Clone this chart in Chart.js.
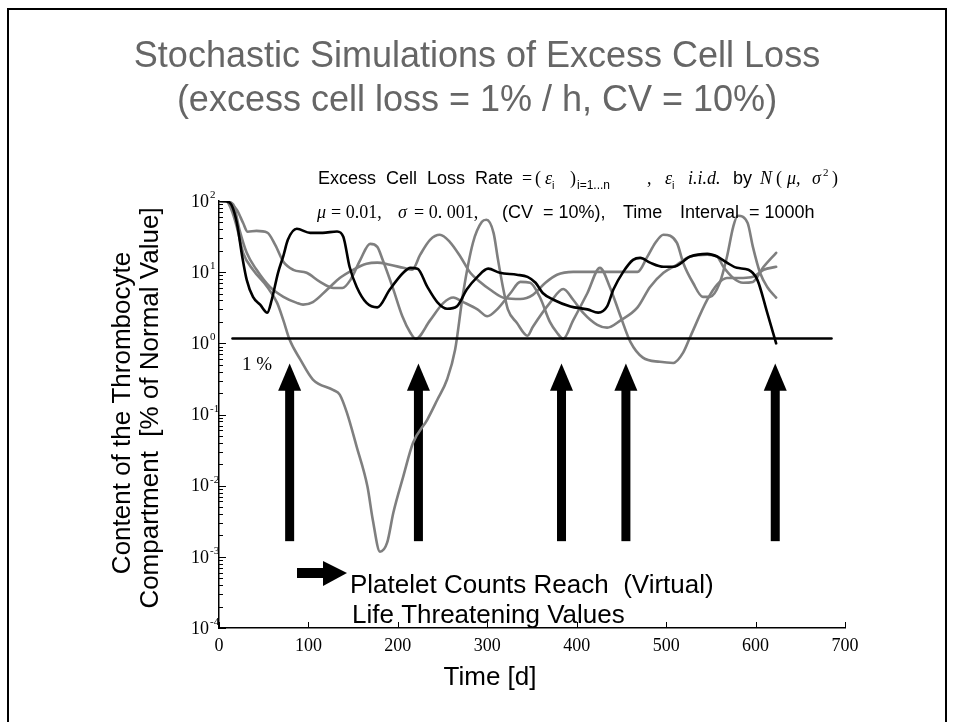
<!DOCTYPE html>
<html>
<head>
<meta charset="utf-8">
<title>Stochastic Simulations of Excess Cell Loss</title>
<script src="https://cdn.jsdelivr.net/npm/chart.js@4.4.1/dist/chart.umd.min.js"></script>
<style>
  html, body { margin: 0; padding: 0; background: #fff; }
</style>
</head>
<body>
<canvas id="myChart" width="954" height="722"></canvas>
<script>
// time axis in days, values in % of normal (log scale)
const blackDays   = [0, 8, 14, 20, 26, 31, 38, 46, 54, 59, 66, 72, 77, 87, 102, 116, 132, 139, 146, 154, 165, 177, 191, 206, 214, 222, 233, 244, 255, 266, 277, 289, 301, 314, 333, 345, 354, 362, 374, 393, 412, 424, 434, 441, 452, 463, 471, 482, 497, 508, 527, 546, 557, 568, 579, 592, 602, 613, 623];
const blackValues = [100, 99, 88, 49, 16.5, 7.8, 4.5, 3.5, 2.7, 4.1, 9.8, 17, 28.5, 40.7, 35.7, 35.7, 37.3, 31.4, 11.9, 6.2, 3.7, 3.2, 5.7, 9.8, 11.5, 11.2, 6.2, 3.8, 3.06, 3.3, 5.7, 8.6, 11.2, 9.8, 9.2, 8.6, 7.1, 5.1, 4.1, 3.3, 3.0, 2.7, 3.3, 5.7, 10.1, 14.9, 15.9, 13.6, 11.9, 11.9, 16.6, 18.1, 16.6, 13.6, 11.5, 10.8, 7.8, 2.7, 1.0];

const gray1Days   = [0, 8, 14, 20, 27, 32, 42, 54, 63, 72, 83, 98, 113, 128, 138, 147, 158, 169, 177, 183, 194, 205, 214, 220, 236, 251, 262, 273, 289, 300, 311, 326, 337, 348, 359, 370, 378, 385, 396, 412, 426, 437, 449, 460, 474, 493, 508, 519, 527, 546, 557, 568, 586, 597, 609, 623];
const gray1Values = [100, 99, 90, 75, 49, 37, 38, 36, 24, 14, 10.8, 9.8, 7.3, 6.0, 6.0, 7.8, 14.9, 25, 22.7, 14.9, 6.2, 2.4, 1.41, 1.16, 2.1, 3.7, 4.4, 3.8, 3.0, 2.4, 3.0, 5.1, 7.3, 7.1, 4.4, 2.0, 1.41, 1.16, 2.1, 5.1, 11.5, 6.2, 2.4, 1.05, 0.63, 0.55, 0.53, 0.74, 1.24, 4.1, 6.7, 8.3, 8.3, 8.6, 10.8, 11.9];

const gray2Days   = [0, 8, 16, 23, 31, 42, 57, 72, 87, 94, 105, 121, 135, 150, 165, 177, 191, 206, 216, 225, 236, 247, 258, 270, 281, 292, 303, 320, 337, 351, 365, 378, 396, 426, 468, 479, 488, 497, 512, 519, 530, 541, 549, 560, 568, 575, 580, 591, 597, 605, 613, 623];
const gray2Values = [100, 99, 89, 39, 18.7, 10.8, 6.2, 4.5, 3.7, 3.5, 3.8, 5.7, 8.3, 10.8, 13.1, 13.6, 12.7, 11.5, 10.8, 17.6, 28.5, 33.5, 26.7, 16.5, 9.8, 7.3, 5.7, 4.3, 4.2, 4.8, 7.1, 9.2, 10.1, 10.1, 10.1, 16.5, 25.9, 33.5, 25.9, 13.6, 7.1, 4.5, 4.5, 7.1, 16.5, 43.4, 62, 49.4, 22.7, 9.8, 6.2, 4.4];

const gray3Days   = [0, 8, 14, 20, 27, 38, 54, 65, 72, 79, 91, 105, 128, 135, 143, 154, 166, 172, 180, 188, 195, 206, 217, 233, 244, 255, 264, 273, 284, 294, 299, 307, 312, 318, 323, 333, 345, 351, 370, 385, 396, 407, 423, 434, 449, 468, 482, 497, 512, 527, 546, 557, 564, 575, 586, 597, 609, 623];
const gray3Values = [100, 99, 75, 43, 18.7, 10.8, 6.2, 3.7, 2.1, 1.12, 0.59, 0.31, 0.22, 0.19, 0.106, 0.035, 0.0097, 0.0033, 0.00118, 0.00158, 0.0042, 0.0134, 0.040, 0.085, 0.16, 0.31, 0.81, 5.1, 25.9, 51, 54.4, 35.7, 14.9, 5.7, 3.0, 1.95, 1.28, 1.71, 3.7, 5.8, 4.1, 2.7, 1.82, 1.66, 2.1, 3.2, 6.2, 9.8, 12.7, 16.6, 17.6, 16.6, 11.9, 8.3, 7.1, 7.3, 11.9, 18.7];

// the "1 %" threshold line
const thresholdDays   = [15, 685];
const thresholdValues = [1.17, 1.17];

// days where a run reaches the threshold (arrows)
const arrowDays = [79, 223, 383, 455, 622];
const arrowTip = 0.52, arrowHeadBase = 0.215, arrowFoot = 0.00166;

const xTicks = [0, 100, 200, 300, 400, 500, 600, 700];
const yDecades = [-4, -3, -2, -1, 0, 1, 2];

function points(xs, ys) {
    return xs.map((d, i) => ({ x: d, y: ys[i] }));
}

const SANS = "'Liberation Sans', Arial, sans-serif";
const SERIF = "'Liberation Serif', 'Times New Roman', serif";

// titles, axis labels, formula text, arrows, inward ticks
const decorations = {
    id: 'decorations',
    beforeDatasetsDraw(chart) {
        const ctx = chart.ctx;
        const xs = chart.scales.x, ys = chart.scales.y;
        ctx.save();
        ctx.fillStyle = '#000';
        arrowDays.forEach(d => {
            const px = xs.getPixelForValue(d);
            const tip = ys.getPixelForValue(arrowTip);
            const base = ys.getPixelForValue(arrowHeadBase);
            const foot = ys.getPixelForValue(arrowFoot);
            ctx.fillRect(px - 4.5, base - 1, 9, foot - base + 1);
            ctx.beginPath();
            ctx.moveTo(px, tip);
            ctx.lineTo(px + 11.5, base);
            ctx.lineTo(px - 11.5, base);
            ctx.closePath();
            ctx.fill();
        });
        ctx.restore();
    },
    afterDraw(chart) {
        const ctx = chart.ctx;
        const xs = chart.scales.x, ys = chart.scales.y;
        const area = chart.chartArea;
        ctx.save();

        // frame
        ctx.strokeStyle = '#000';
        ctx.lineWidth = 2;
        ctx.strokeRect(8, 9, 938, 800);

        // ticks pointing inward
        ctx.lineWidth = 1;
        ctx.beginPath();
        yDecades.forEach(k => {
            const py = Math.round(ys.getPixelForValue(Math.pow(10, k))) + 0.5;
            ctx.moveTo(area.left, py);
            ctx.lineTo(area.left + 7, py);
            if (k < 2) {
                for (let m = 2; m <= 9; m++) {
                    const pm = Math.round(ys.getPixelForValue(m * Math.pow(10, k))) + 0.5;
                    ctx.moveTo(area.left, pm);
                    ctx.lineTo(area.left + 4, pm);
                }
            }
        });
        xTicks.forEach(v => {
            const px = Math.round(xs.getPixelForValue(v)) + 0.5;
            ctx.moveTo(px, area.bottom);
            ctx.lineTo(px, area.bottom - 6);
        });
        ctx.stroke();

        // y tick labels 10^k
        ctx.fillStyle = '#000';
        yDecades.forEach(k => {
            const py = ys.getPixelForValue(Math.pow(10, k));
            ctx.font = '18px ' + SERIF;
            ctx.textAlign = 'right';
            ctx.textBaseline = 'middle';
            ctx.fillText('10', area.left - 10, py + 1);
            ctx.font = '11px ' + SERIF;
            ctx.textAlign = 'left';
            ctx.textBaseline = 'alphabetic';
            ctx.fillText(String(k), area.left - 9, py - 3);
        });

        // title
        ctx.fillStyle = '#666';
        ctx.textAlign = 'center';
        ctx.font = '36px ' + SANS;
        ctx.fillText('Stochastic Simulations of Excess Cell Loss', 477, 67);
        ctx.fillText('(excess cell loss = 1% / h, CV = 10%)', 477, 111);

        // axis titles
        ctx.fillStyle = '#000';
        ctx.font = '26px ' + SANS;
        ctx.fillText('Time [d]', 490, 685);
        ctx.save();
        ctx.translate(130, 413);
        ctx.rotate(-Math.PI / 2);
        ctx.fillText('Content of the Thrombocyte', 0, 0);
        ctx.restore();
        ctx.save();
        ctx.translate(158, 408);
        ctx.rotate(-Math.PI / 2);
        ctx.fillText('Compartment  [% of Normal Value]', 0, 0);
        ctx.restore();

        // formula lines
        ctx.textAlign = 'left';
        const row1 = 184, row2 = 218;
        const seg = [
            ['Excess  Cell  Loss  Rate', 318, row1, '18px ' + SANS],
            ['=', 522, row1, '18px ' + SERIF],
            ['(', 535, row1, '18px ' + SERIF],
            ['\u03B5', 545, row1, 'italic 18px ' + SERIF],
            ['i', 552, row1 + 5, '11px ' + SANS],
            [')', 570, row1, '18px ' + SERIF],
            ['i=1...n', 577, row1 + 5, '12px ' + SANS],
            [',', 647, row1, '18px ' + SERIF],
            ['\u03B5', 665, row1, 'italic 18px ' + SERIF],
            ['i', 672, row1 + 5, '11px ' + SANS],
            ['i.i.d.', 688, row1, 'italic 18px ' + SERIF],
            ['by', 733, row1, '18px ' + SANS],
            ['N', 760, row1, 'italic 18px ' + SERIF],
            ['(', 776, row1, '18px ' + SERIF],
            ['\u03BC,', 787, row1, 'italic 18px ' + SERIF],
            ['\u03C3', 812, row1, 'italic 18px ' + SERIF],
            ['2', 823, row1 - 8, '11px ' + SERIF],
            [')', 832, row1, '18px ' + SERIF],
            ['\u03BC', 317, row2, 'italic 18px ' + SERIF],
            ['= 0.01,', 331, row2, '18px ' + SERIF],
            ['\u03C3', 398, row2, 'italic 18px ' + SERIF],
            ['= 0. 001,', 414, row2, '18px ' + SERIF],
            ['(CV  = 10%),', 502, row2, '18px ' + SANS],
            ['Time', 623, row2, '18px ' + SANS],
            ['Interval  = 1000h', 680, row2, '18px ' + SANS],
            ['1 %', 242, 370, '19px ' + SERIF]
        ];
        seg.forEach(s => {
            ctx.font = s[3];
            ctx.fillText(s[0], s[1], s[2]);
        });

        // "Platelet Counts" note with its arrow
        ctx.font = '26px ' + SANS;
        ctx.fillText('Platelet Counts Reach  (Virtual)', 350, 593);
        ctx.fillText('Life Threatening Values', 352, 623);
        ctx.fillRect(297, 568, 27, 10);
        ctx.beginPath();
        ctx.moveTo(323, 561);
        ctx.lineTo(347, 573);
        ctx.lineTo(323, 586);
        ctx.closePath();
        ctx.fill();

        ctx.restore();
    }
};

const GRAY = '#7f7f7f';
function series(xs, ys, color) {
    return {
        data: points(xs, ys),
        borderColor: color,
        borderWidth: 2.6,
        pointRadius: 0,
        fill: false,
        cubicInterpolationMode: 'monotone',
        borderJoinStyle: 'round',
        borderCapStyle: 'round'
    };
}

const ctx = document.getElementById('myChart').getContext('2d');
const myChart = new Chart(ctx, {
    type: 'line',
    data: {
        datasets: [
            Object.assign(series(thresholdDays, thresholdValues, '#000'), { cubicInterpolationMode: 'default', tension: 0, borderWidth: 2.4 }),
            series(blackDays, blackValues, '#000'),
            series(gray1Days, gray1Values, GRAY),
            series(gray2Days, gray2Values, GRAY),
            series(gray3Days, gray3Values, GRAY)
        ]
    },
    options: {
        responsive: false,
        animation: false,
        devicePixelRatio: 1,
        layout: { padding: { top: 201, right: 109, bottom: 0, left: 0 } },
        plugins: {
            legend: { display: false },
            tooltip: { enabled: false }
        },
        scales: {
            x: {
                type: 'linear',
                min: 0,
                max: 700,
                ticks: {
                    stepSize: 100,
                    color: '#000',
                    padding: 7,
                    maxRotation: 0,
                    font: { family: SERIF, size: 18 }
                },
                grid: { display: false, drawTicks: false },
                border: { display: true, color: '#000', width: 1.5 },
                afterFit(s) {
                    s.height = 94;
                    s.paddingLeft = 0;
                    s.paddingRight = 0;
                }
            },
            y: {
                type: 'logarithmic',
                min: 0.0001,
                max: 100,
                ticks: { display: false },
                grid: { display: false, drawTicks: false },
                border: { display: true, color: '#000', width: 1.5 },
                afterFit(s) {
                    s.width = 219;
                    s.paddingTop = 0;
                    s.paddingBottom = 0;
                }
            }
        }
    },
    plugins: [decorations]
});
</script>
</body>
</html>
